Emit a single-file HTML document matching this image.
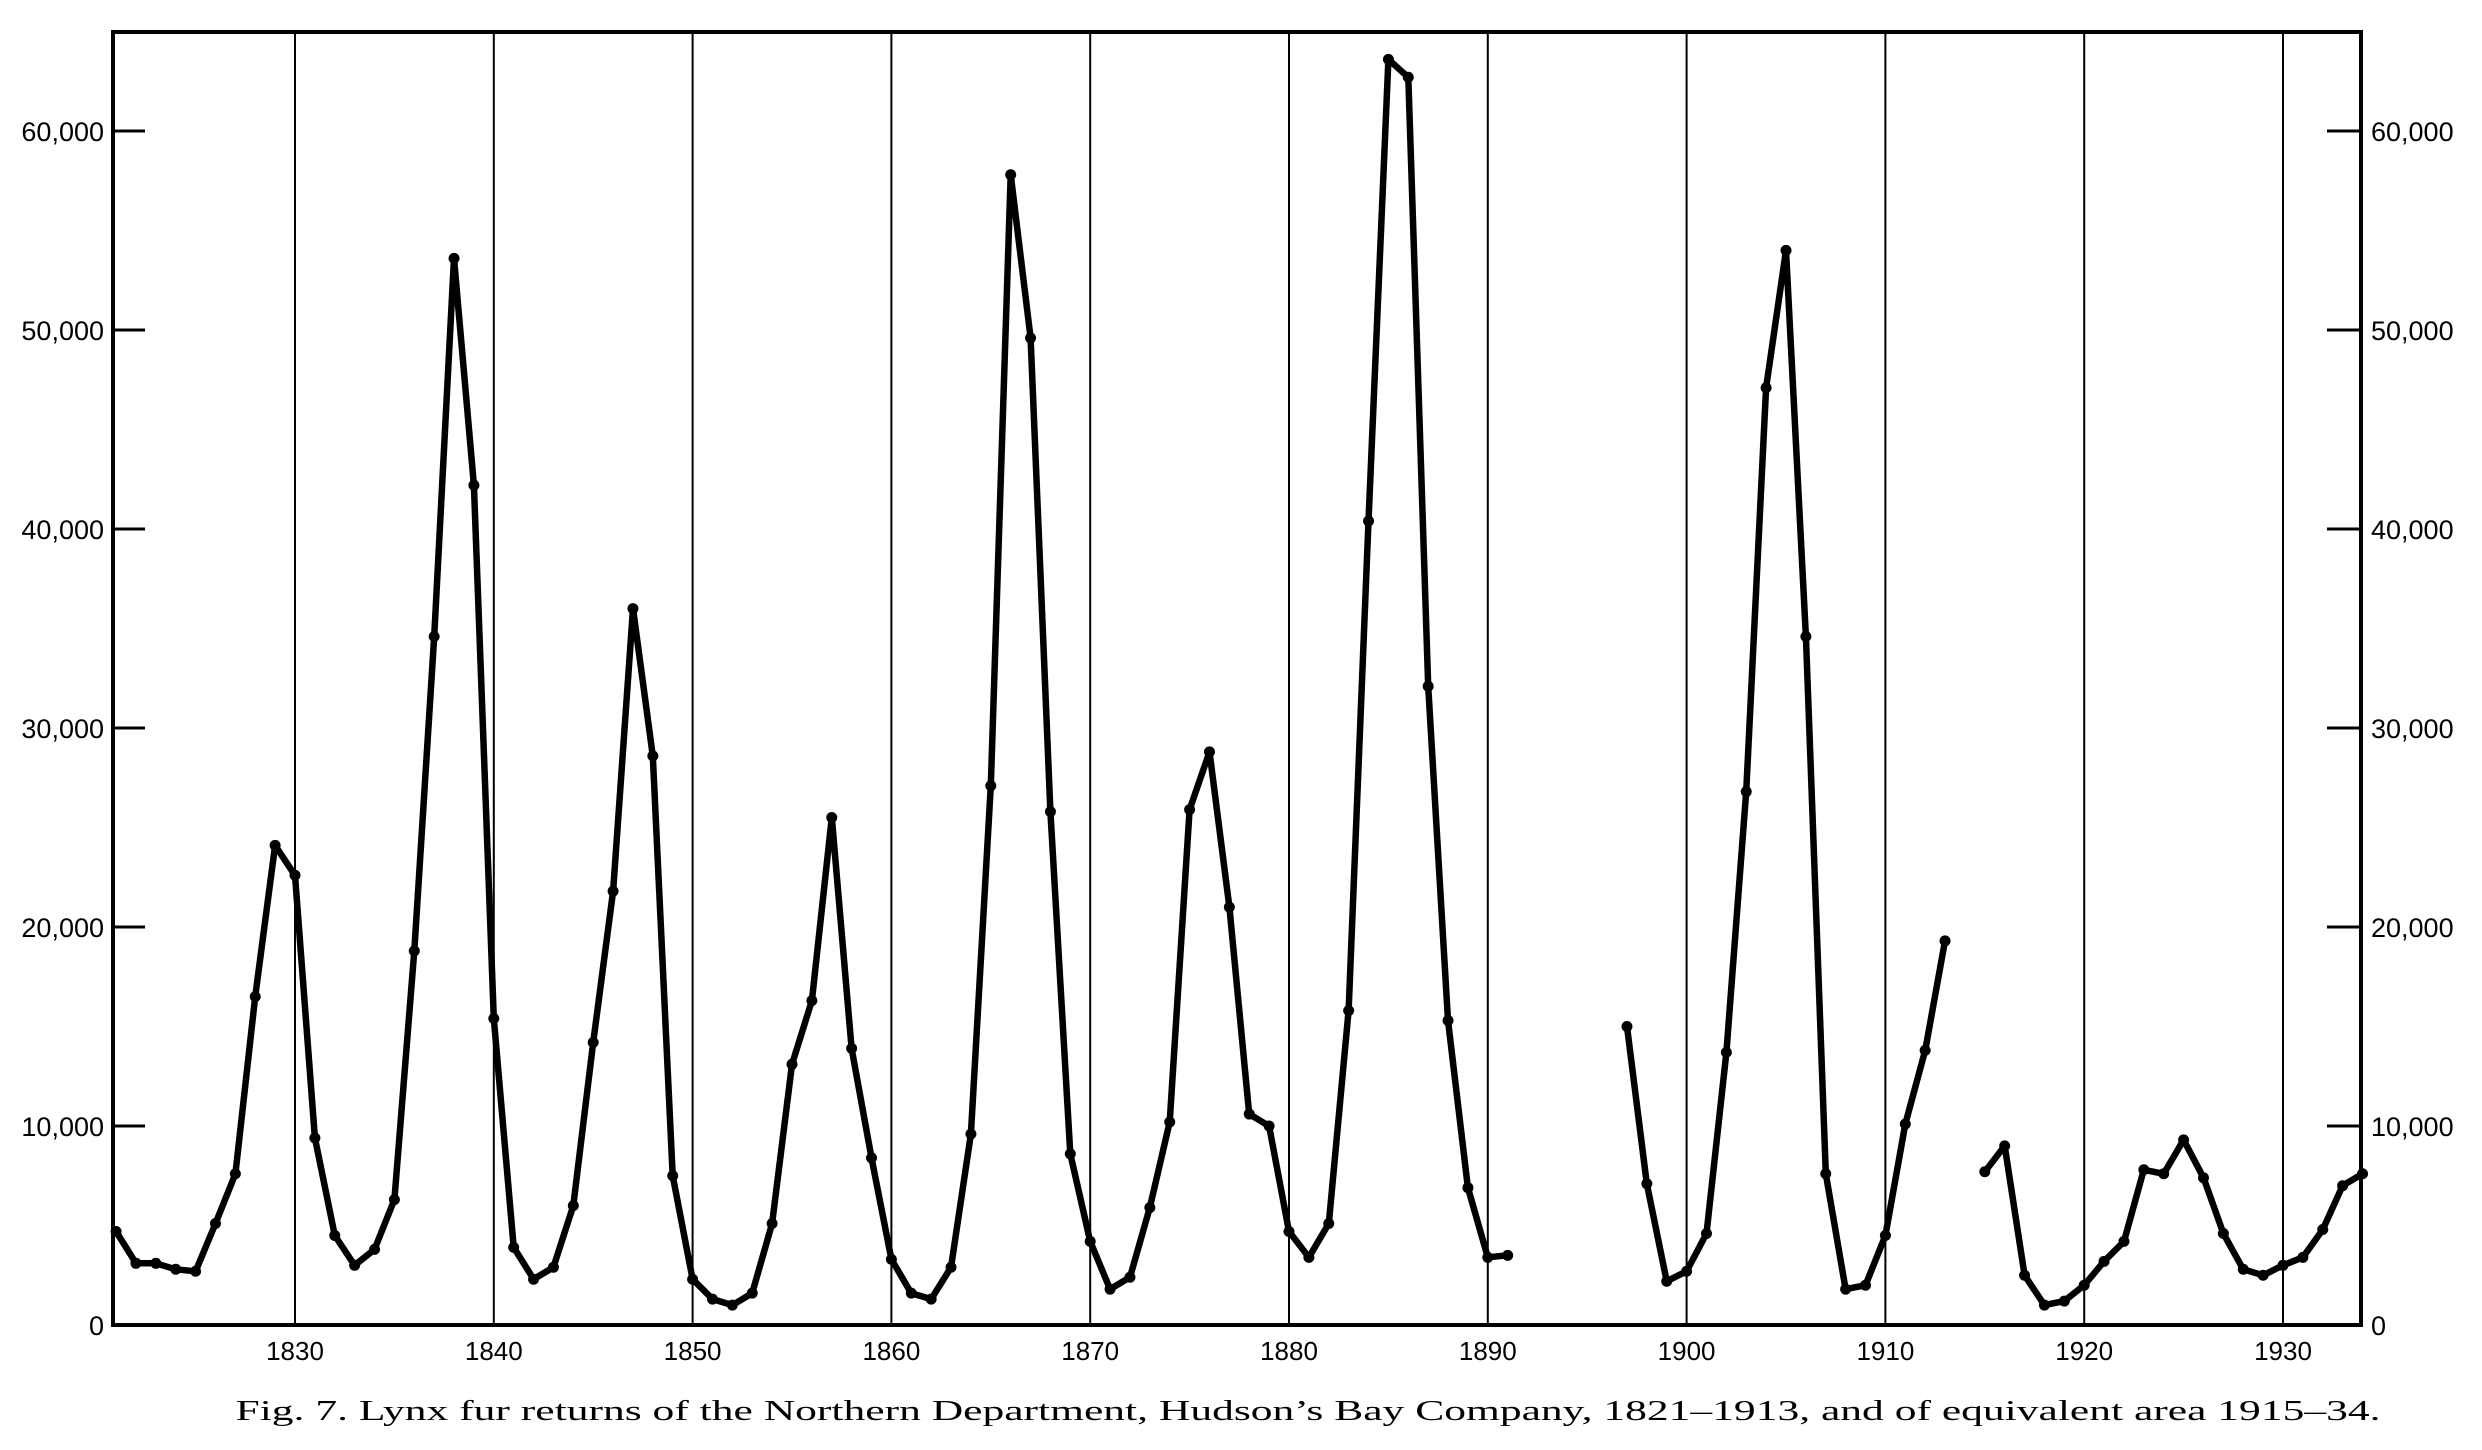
<!DOCTYPE html>
<html><head><meta charset="utf-8"><style>
html,body{margin:0;padding:0;background:#fff;}
svg{display:block;}
text{font-family:"Liberation Sans",sans-serif;fill:#000;}
</style></head><body>
<svg id="s" width="2482" height="1450" viewBox="0 0 2482 1450" xmlns="http://www.w3.org/2000/svg">
<g id="g"></g>
<text x="1308" y="1420" text-anchor="middle" style="font-family:'Liberation Serif',serif;font-size:29px" textLength="2145" lengthAdjust="spacingAndGlyphs">Fig. 7.  Lynx fur returns of the Northern Department, Hudson’s Bay Company, 1821–1913, and of equivalent area 1915–34.</text>
</svg>
<script>
var NS="http://www.w3.org/2000/svg",g=document.getElementById("g");
function X(y){return 295+(y-1830)*19.88;}
function Y(v){return 1325-v*19.9;}
function el(t,a){var e=document.createElementNS(NS,t);for(var k in a)e.setAttribute(k,a[k]);g.appendChild(e);return e;}
var L=113,R=2361,T=32,B=1325;
for(var yr=1830;yr<=1930;yr+=10){el("line",{x1:X(yr),x2:X(yr),y1:T,y2:B,stroke:"#000","stroke-width":2});
 var t=el("text",{x:X(yr),y:1360,"text-anchor":"middle","font-size":26});t.textContent=yr;}
el("rect",{x:L,y:T,width:R-L,height:B-T,fill:"none",stroke:"#000","stroke-width":4});
for(var v=0;v<=60;v+=10){var y=Y(v);
 if(v>0){el("line",{x1:L,x2:L+32,y1:y,y2:y,stroke:"#000","stroke-width":3});el("line",{x1:R-34,x2:R,y1:y,y2:y,stroke:"#000","stroke-width":3});}
 var lab=v==0?"0":v+",000";
 var a=el("text",{x:104,y:y+10,"text-anchor":"end","font-size":27});a.textContent=lab;
 var b=el("text",{x:2371,y:y+10,"font-size":27});b.textContent=lab;}
var segs=[[1821,[4.7,3.1,3.1,2.8,2.7,5.1,7.6,16.5,24.1,22.6,9.4,4.5,3.0,3.8,6.3,18.8,34.6,53.6,42.2,15.4,3.9,2.3,2.9,6.0,14.2,21.8,36.0,28.6,7.5,2.3,1.3,1.0,1.6,5.1,13.1,16.3,25.5,13.9,8.4,3.3,1.6,1.3,2.9,9.6,27.1,57.8,49.6,25.8,8.6,4.2,1.8,2.4,5.9,10.2,25.9,28.8,21.0,10.6,10.0,4.7,3.4,5.1,15.8,40.4,63.6,62.7,32.1,15.3,6.9,3.4,3.5]],
[1897,[15.0,7.1,2.2,2.7,4.6,13.7,26.8,47.1,54.0,34.6,7.6,1.8,2.0,4.5,10.1,13.8,19.3]],
[1915,[7.7,9.0,2.5,1.0,1.2,2.0,3.2,4.2,7.8,7.6,9.3,7.4,4.6,2.8,2.5,3.0,3.4,4.8,7.0,7.6]]];
segs.forEach(function(s){var pts=[];s[1].forEach(function(v,i){var x=X(s[0]+i),y=Y(v);pts.push(x.toFixed(1)+","+y.toFixed(1));});
 el("polyline",{points:pts.join(" "),fill:"none",stroke:"#000","stroke-width":6.5,"stroke-linejoin":"round","stroke-linecap":"round"});
 s[1].forEach(function(v,i){el("circle",{cx:X(s[0]+i),cy:Y(v),r:5.5,fill:"#000"});});});
</script>
</body></html>
